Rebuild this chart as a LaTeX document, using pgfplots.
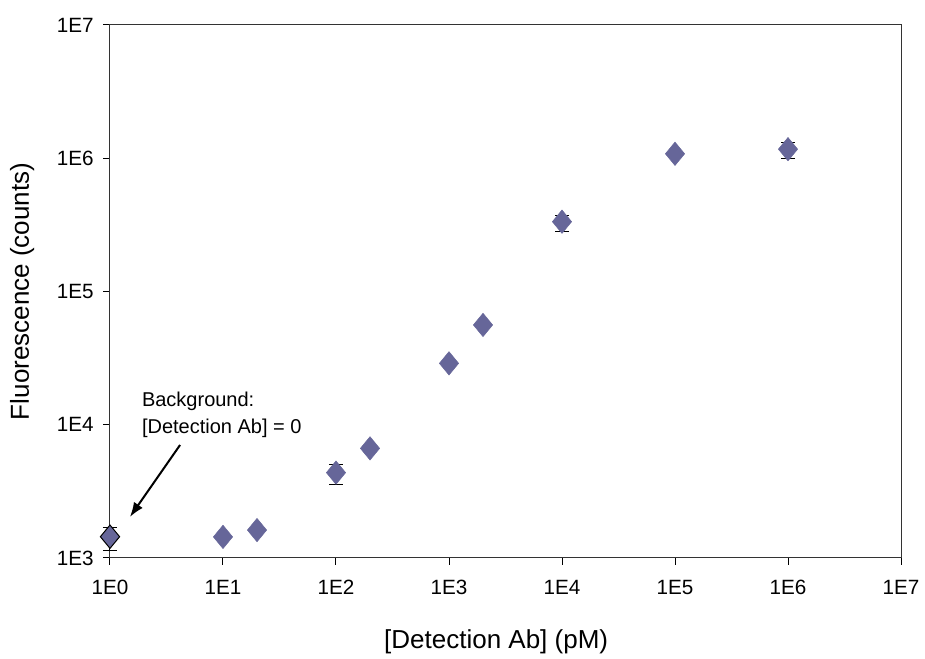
\documentclass[border=0pt]{standalone}
\usepackage{fontspec}
\setmainfont{Liberation Sans}
\usepackage{pgfplots}
\pgfplotsset{compat=1.18}
\usetikzlibrary{arrows.meta}
\definecolor{xlblue}{RGB}{102,102,153}

\begin{document}
\begin{tikzpicture}[x=1pt,y=1pt]
% frame of the whole picture, 1px = 0.75pt
\path (-82.5,-72) rectangle (611.25,418.5);
\begin{axis}[
    at={(0,0)}, anchor=south west,
    width=593.25pt, height=399.75pt, scale only axis,
    xmode=log, ymode=log,
    xmin=1, xmax=1e7, ymin=1e3, ymax=1e7,
    xtick={1,10,100,1000,10000,100000,1000000,10000000},
    xticklabels={1E0,1E1,1E2,1E3,1E4,1E5,1E6,1E7},
    ytick={1000,10000,100000,1000000,10000000},
    yticklabels={1E3,1E4,1E5,1E6,1E7},
    xminorticks=false, yminorticks=false,
    tick pos=left, tick align=outside,
    major tick length=5.25pt,
    tick style={black, line width=0.75pt},
    axis line style={black!80, line width=0.75pt},
    tick label style={font=\fontsize{15.5}{15.5}\selectfont},
    xticklabel style={yshift=-8pt},
    yticklabel style={xshift=-3.5pt},
    xlabel={[Detection Ab] (pM)},
    ylabel={Fluorescence (counts)},
    label style={font=\fontsize{19.5}{19.5}\selectfont},
    xlabel style={yshift=-19pt, xshift=-7pt},
    ylabel style={yshift=10pt},
    clip=false,
]
% samples
\addplot[only marks, mark=diamond*, mark size=8.75pt,
    mark options={xscale=1.1, fill=xlblue, draw=xlblue},
    error bars/.cd, y dir=both, y explicit,
    error bar style={black, line width=0.75pt},
    error mark options={rotate=90, mark size=5.25pt, black, line width=0.75pt}]
coordinates {
    (100,4370) += (0,700) -= (0,820)
    (10000,334000) += (0,37000) -= (0,53000)
    (1000000,1170000) += (0,140000) -= (0,180000)
};
\addplot[only marks, mark=diamond*, mark size=8.75pt,
    mark options={xscale=1.1, fill=xlblue, draw=xlblue}]
coordinates {
    (10,1440) (20,1620) (200,6650) (1000,28900) (2000,56100) (100000,1080000)
};
% background, [Detection Ab] = 0
\addplot[only marks, mark=diamond*, mark size=8.75pt,
    mark options={xscale=1.1, fill=xlblue, draw=black, line width=0.75pt},
    error bars/.cd, y dir=both, y explicit,
    error bar style={black, line width=0.75pt},
    error mark options={rotate=90, mark size=5.25pt, black, line width=0.75pt}]
coordinates {
    (1,1445) += (0,245) -= (0,310)
};
\draw[-{Latex[length=11pt,width=8pt]}, line width=1.5pt]
    (axis cs:4.17,7050) -- (axis cs:1.5,2030);
\node[anchor=north west, align=left, inner sep=0pt,
    font=\fontsize{15}{20}\selectfont]
    at (axis cs:1.91,17600) {Background:\\{}[Detection Ab] = 0};
\end{axis}
\end{tikzpicture}
\end{document}
